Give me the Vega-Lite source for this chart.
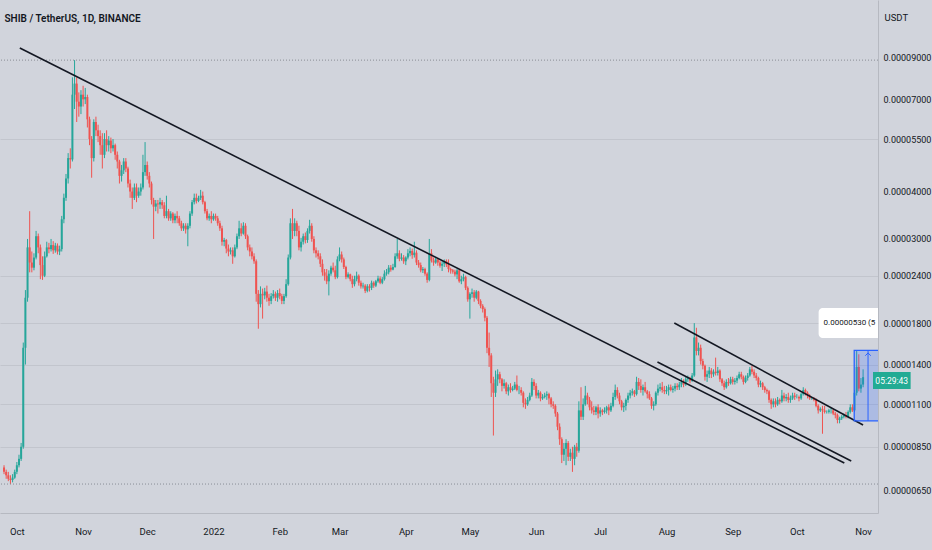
{
  "$schema": "https://vega.github.io/schema/vega-lite/v6.json",
  "width": 878,
  "height": 513,
  "autosize": "none",
  "padding": {"left": 0, "top": 0, "right": 54, "bottom": 37},
  "background": "#d1d4dc",
  "title": {
    "text": "SHIB / TetherUS, 1D, BINANCE",
    "anchor": "start",
    "offset": -24,
    "dx": 5,
    "fontSize": 10,
    "fontWeight": 600,
    "font": "Roboto",
    "color": "#131722"
  },
  "config": {
    "view": {"stroke": null},
    "font": "Roboto"
  },
  "datasets": {
    "candles": [
      {"t":"2021-09-25","o":7.5,"h":7.6,"l":7.2,"c":7.3},
      {"t":"2021-09-26","o":7.3,"h":7.4,"l":7.0,"c":7.15},
      {"t":"2021-09-27","o":7.15,"h":7.3,"l":6.9,"c":7.0},
      {"t":"2021-09-28","o":7.0,"h":7.15,"l":6.78,"c":6.95},
      {"t":"2021-09-29","o":6.95,"h":7.2,"l":6.85,"c":7.05},
      {"t":"2021-09-30","o":7.05,"h":7.4,"l":7.0,"c":7.3},
      {"t":"2021-10-01","o":7.3,"h":7.75,"l":7.2,"c":7.6},
      {"t":"2021-10-02","o":7.6,"h":8.1,"l":7.5,"c":7.9},
      {"t":"2021-10-03","o":7.9,"h":8.7,"l":7.8,"c":8.5},
      {"t":"2021-10-04","o":8.5,"h":16,"l":8.4,"c":15.5},
      {"t":"2021-10-05","o":15.5,"h":22,"l":14,"c":21},
      {"t":"2021-10-06","o":21,"h":30,"l":20.5,"c":28.5},
      {"t":"2021-10-07","o":28.5,"h":35.5,"l":24.5,"c":26},
      {"t":"2021-10-08","o":26,"h":27.8,"l":24.5,"c":25.2},
      {"t":"2021-10-09","o":25.2,"h":27.5,"l":24.8,"c":26.8},
      {"t":"2021-10-10","o":26.8,"h":31.5,"l":26.5,"c":30.5},
      {"t":"2021-10-11","o":30.5,"h":31,"l":27.5,"c":28.5},
      {"t":"2021-10-12","o":28.5,"h":29,"l":23.5,"c":25.6},
      {"t":"2021-10-13","o":25.6,"h":27,"l":23.4,"c":24},
      {"t":"2021-10-14","o":24,"h":27.8,"l":23.8,"c":27},
      {"t":"2021-10-15","o":27,"h":29.5,"l":26.8,"c":28.5},
      {"t":"2021-10-16","o":28.5,"h":29.3,"l":27.5,"c":28.2},
      {"t":"2021-10-17","o":28.2,"h":30,"l":27.8,"c":28.9},
      {"t":"2021-10-18","o":28.9,"h":29.6,"l":27.4,"c":28},
      {"t":"2021-10-19","o":28,"h":29.3,"l":27.6,"c":28.8},
      {"t":"2021-10-20","o":28.8,"h":29.2,"l":27.3,"c":27.8},
      {"t":"2021-10-21","o":27.8,"h":28.8,"l":27.2,"c":28.2},
      {"t":"2021-10-22","o":28.2,"h":34.5,"l":27.8,"c":33.8},
      {"t":"2021-10-23","o":33.8,"h":39.5,"l":33,"c":38.5},
      {"t":"2021-10-24","o":38.5,"h":44.5,"l":37.8,"c":43.3},
      {"t":"2021-10-25","o":43.3,"h":50.5,"l":42,"c":49},
      {"t":"2021-10-26","o":49,"h":52,"l":46,"c":48.6},
      {"t":"2021-10-27","o":48.6,"h":80,"l":48,"c":72},
      {"t":"2021-10-28","o":72,"h":88.8,"l":66,"c":77},
      {"t":"2021-10-29","o":77,"h":80,"l":61,"c":69},
      {"t":"2021-10-30","o":69,"h":73,"l":63,"c":67},
      {"t":"2021-10-31","o":67,"h":74,"l":64,"c":72},
      {"t":"2021-11-01","o":72,"h":76,"l":67,"c":70},
      {"t":"2021-11-02","o":70,"h":75,"l":68,"c":71},
      {"t":"2021-11-03","o":71,"h":72,"l":59,"c":62},
      {"t":"2021-11-04","o":62,"h":63,"l":53,"c":55},
      {"t":"2021-11-05","o":55,"h":56,"l":43.5,"c":49},
      {"t":"2021-11-06","o":49,"h":62,"l":48,"c":61},
      {"t":"2021-11-07","o":61,"h":63,"l":56,"c":58},
      {"t":"2021-11-08","o":58,"h":60,"l":54,"c":56},
      {"t":"2021-11-09","o":56,"h":58,"l":50,"c":53},
      {"t":"2021-11-10","o":53,"h":57,"l":46,"c":50},
      {"t":"2021-11-11","o":50,"h":57,"l":49,"c":55},
      {"t":"2021-11-12","o":55,"h":58,"l":51,"c":53},
      {"t":"2021-11-13","o":53,"h":56,"l":51,"c":54.5},
      {"t":"2021-11-14","o":54.5,"h":55.5,"l":50.5,"c":52},
      {"t":"2021-11-15","o":52,"h":55,"l":51,"c":53},
      {"t":"2021-11-16","o":53,"h":53.5,"l":48.5,"c":50},
      {"t":"2021-11-17","o":50,"h":51,"l":46,"c":48},
      {"t":"2021-11-18","o":48,"h":48.5,"l":42,"c":44},
      {"t":"2021-11-19","o":44,"h":47,"l":42.5,"c":45.5},
      {"t":"2021-11-20","o":45.5,"h":49,"l":44.5,"c":48},
      {"t":"2021-11-21","o":48,"h":49,"l":45,"c":46},
      {"t":"2021-11-22","o":46,"h":46.5,"l":41,"c":42},
      {"t":"2021-11-23","o":42,"h":43,"l":38.5,"c":40},
      {"t":"2021-11-24","o":40,"h":41,"l":36,"c":38.5},
      {"t":"2021-11-25","o":38.5,"h":42,"l":38,"c":41},
      {"t":"2021-11-26","o":41,"h":42,"l":37.5,"c":39},
      {"t":"2021-11-27","o":39,"h":41,"l":38.5,"c":40},
      {"t":"2021-11-28","o":40,"h":42,"l":39,"c":41},
      {"t":"2021-11-29","o":41,"h":50,"l":40.5,"c":45},
      {"t":"2021-11-30","o":45,"h":54,"l":44,"c":47},
      {"t":"2021-12-01","o":47,"h":48,"l":43,"c":44},
      {"t":"2021-12-02","o":44,"h":45,"l":41,"c":42},
      {"t":"2021-12-03","o":42,"h":42.5,"l":37,"c":38},
      {"t":"2021-12-04","o":38,"h":38.5,"l":30,"c":36.5},
      {"t":"2021-12-05","o":36.5,"h":38,"l":35.5,"c":37.2},
      {"t":"2021-12-06","o":37.2,"h":38,"l":35,"c":37},
      {"t":"2021-12-07","o":37,"h":38.5,"l":36,"c":37.5},
      {"t":"2021-12-08","o":37.5,"h":38,"l":36,"c":36.8},
      {"t":"2021-12-09","o":36.8,"h":37.5,"l":34,"c":34.5},
      {"t":"2021-12-10","o":34.5,"h":39,"l":34,"c":35.5},
      {"t":"2021-12-11","o":35.5,"h":36,"l":33.5,"c":34},
      {"t":"2021-12-12","o":34,"h":35.5,"l":33.5,"c":35},
      {"t":"2021-12-13","o":35,"h":35.3,"l":33,"c":33.6},
      {"t":"2021-12-14","o":33.6,"h":35,"l":33,"c":34.5},
      {"t":"2021-12-15","o":34.5,"h":35.5,"l":33,"c":34},
      {"t":"2021-12-16","o":34,"h":34.5,"l":32.5,"c":33},
      {"t":"2021-12-17","o":33,"h":33.5,"l":31.5,"c":32},
      {"t":"2021-12-18","o":32,"h":33,"l":31.5,"c":32.5},
      {"t":"2021-12-19","o":32.5,"h":33,"l":31,"c":31.8},
      {"t":"2021-12-20","o":31.8,"h":33,"l":28.7,"c":32.5},
      {"t":"2021-12-21","o":32.5,"h":35.5,"l":32,"c":35},
      {"t":"2021-12-22","o":35,"h":38,"l":34.5,"c":37.5},
      {"t":"2021-12-23","o":37.5,"h":39.5,"l":37,"c":38.5},
      {"t":"2021-12-24","o":38.5,"h":39.5,"l":37.2,"c":37.8},
      {"t":"2021-12-25","o":37.8,"h":39,"l":37.5,"c":38.5},
      {"t":"2021-12-26","o":38.5,"h":40.4,"l":38,"c":39},
      {"t":"2021-12-27","o":39,"h":40,"l":37,"c":37.5},
      {"t":"2021-12-28","o":37.5,"h":37.8,"l":35,"c":35.5},
      {"t":"2021-12-29","o":35.5,"h":36,"l":33.6,"c":34},
      {"t":"2021-12-30","o":34,"h":35,"l":33.5,"c":34.5},
      {"t":"2021-12-31","o":34.5,"h":35.5,"l":33,"c":33.8},
      {"t":"2022-01-01","o":33.8,"h":35,"l":33.5,"c":34.5},
      {"t":"2022-01-02","o":34.5,"h":35,"l":33.5,"c":34},
      {"t":"2022-01-03","o":34,"h":34.5,"l":32.5,"c":33},
      {"t":"2022-01-04","o":33,"h":33.5,"l":31.5,"c":32},
      {"t":"2022-01-05","o":32,"h":32.5,"l":28.8,"c":29.5},
      {"t":"2022-01-06","o":29.5,"h":30.2,"l":28.7,"c":29.8},
      {"t":"2022-01-07","o":29.8,"h":30,"l":27.5,"c":28.3},
      {"t":"2022-01-08","o":28.3,"h":29,"l":27,"c":27.8},
      {"t":"2022-01-09","o":27.8,"h":28.5,"l":27.3,"c":28},
      {"t":"2022-01-10","o":28,"h":28.5,"l":25.8,"c":27},
      {"t":"2022-01-11","o":27,"h":29,"l":26.8,"c":28.5},
      {"t":"2022-01-12","o":28.5,"h":31,"l":28.2,"c":30.5},
      {"t":"2022-01-13","o":30.5,"h":33.5,"l":30,"c":32},
      {"t":"2022-01-14","o":32,"h":33,"l":30.5,"c":31},
      {"t":"2022-01-15","o":31,"h":33.2,"l":30.8,"c":32.5},
      {"t":"2022-01-16","o":32.5,"h":33,"l":30,"c":30.5},
      {"t":"2022-01-17","o":30.5,"h":30.8,"l":28,"c":28.5},
      {"t":"2022-01-18","o":28.5,"h":29,"l":27,"c":27.8},
      {"t":"2022-01-19","o":27.8,"h":28.5,"l":26.5,"c":27},
      {"t":"2022-01-20","o":27,"h":27.5,"l":25.8,"c":26.2},
      {"t":"2022-01-21","o":26.2,"h":26.5,"l":20.5,"c":21.5},
      {"t":"2022-01-22","o":21.5,"h":22,"l":17.4,"c":20.2},
      {"t":"2022-01-23","o":20.2,"h":22.5,"l":19.8,"c":21.5},
      {"t":"2022-01-24","o":21.5,"h":22.2,"l":18.5,"c":21.3},
      {"t":"2022-01-25","o":21.3,"h":22.3,"l":20.8,"c":21.8},
      {"t":"2022-01-26","o":21.8,"h":22.6,"l":20.5,"c":21},
      {"t":"2022-01-27","o":21,"h":21.5,"l":20,"c":20.6},
      {"t":"2022-01-28","o":20.6,"h":21.6,"l":20.2,"c":21.2},
      {"t":"2022-01-29","o":21.2,"h":22,"l":20.9,"c":21.5},
      {"t":"2022-01-30","o":21.5,"h":21.8,"l":20.6,"c":21},
      {"t":"2022-01-31","o":21,"h":22,"l":20.5,"c":21.6},
      {"t":"2022-02-01","o":21.6,"h":22.2,"l":20.8,"c":21.2},
      {"t":"2022-02-02","o":21.2,"h":21.5,"l":20.2,"c":20.6},
      {"t":"2022-02-03","o":20.6,"h":21.5,"l":20.2,"c":21.2},
      {"t":"2022-02-04","o":21.2,"h":23.5,"l":21,"c":22.8},
      {"t":"2022-02-05","o":22.8,"h":27.3,"l":22.6,"c":26.8},
      {"t":"2022-02-06","o":26.8,"h":34,"l":26.5,"c":33},
      {"t":"2022-02-07","o":33,"h":36,"l":30,"c":31.5},
      {"t":"2022-02-08","o":31.5,"h":34,"l":30.5,"c":33},
      {"t":"2022-02-09","o":33,"h":33.5,"l":30.5,"c":31.5},
      {"t":"2022-02-10","o":31.5,"h":32.5,"l":28,"c":28.5},
      {"t":"2022-02-11","o":28.5,"h":30.2,"l":27.8,"c":29.5},
      {"t":"2022-02-12","o":29.5,"h":31,"l":29,"c":30.5},
      {"t":"2022-02-13","o":30.5,"h":31.2,"l":29.2,"c":29.8},
      {"t":"2022-02-14","o":29.8,"h":32,"l":29.3,"c":31.5},
      {"t":"2022-02-15","o":31.5,"h":33.7,"l":31,"c":32.5},
      {"t":"2022-02-16","o":32.5,"h":33,"l":29.5,"c":30},
      {"t":"2022-02-17","o":30,"h":30.5,"l":27.5,"c":28},
      {"t":"2022-02-18","o":28,"h":28.5,"l":26.8,"c":27.5},
      {"t":"2022-02-19","o":27.5,"h":28,"l":26.5,"c":27},
      {"t":"2022-02-20","o":27,"h":27.5,"l":25.3,"c":25.8},
      {"t":"2022-02-21","o":25.8,"h":26.5,"l":24,"c":24.5},
      {"t":"2022-02-22","o":24.5,"h":25,"l":23.3,"c":24},
      {"t":"2022-02-23","o":24,"h":25,"l":22.8,"c":23.2},
      {"t":"2022-02-24","o":23.2,"h":24.8,"l":21.3,"c":24.3},
      {"t":"2022-02-25","o":24.3,"h":25.5,"l":24,"c":25.2},
      {"t":"2022-02-26","o":25.2,"h":26,"l":24.5,"c":24.8},
      {"t":"2022-02-27","o":24.8,"h":25.5,"l":23.5,"c":23.8},
      {"t":"2022-02-28","o":23.8,"h":27,"l":23.6,"c":26.5},
      {"t":"2022-03-01","o":26.5,"h":28.5,"l":26.2,"c":27.3},
      {"t":"2022-03-02","o":27.3,"h":27.8,"l":26,"c":26.5},
      {"t":"2022-03-03","o":26.5,"h":26.8,"l":25,"c":25.3},
      {"t":"2022-03-04","o":25.3,"h":25.5,"l":23.5,"c":23.8},
      {"t":"2022-03-05","o":23.8,"h":24.5,"l":23.6,"c":24.2},
      {"t":"2022-03-06","o":24.2,"h":24.3,"l":23.2,"c":23.5},
      {"t":"2022-03-07","o":23.5,"h":24,"l":22.3,"c":22.8},
      {"t":"2022-03-08","o":22.8,"h":24,"l":22.5,"c":23.5},
      {"t":"2022-03-09","o":23.5,"h":24.6,"l":23.2,"c":24},
      {"t":"2022-03-10","o":24,"h":24.2,"l":22.6,"c":23},
      {"t":"2022-03-11","o":23,"h":23.3,"l":22.2,"c":22.5},
      {"t":"2022-03-12","o":22.5,"h":23,"l":22.2,"c":22.6},
      {"t":"2022-03-13","o":22.6,"h":22.8,"l":21.6,"c":21.9},
      {"t":"2022-03-14","o":21.9,"h":22.8,"l":21.7,"c":22.5},
      {"t":"2022-03-15","o":22.5,"h":22.8,"l":21.8,"c":22.3},
      {"t":"2022-03-16","o":22.3,"h":23.3,"l":22,"c":23},
      {"t":"2022-03-17","o":23,"h":23.2,"l":22.3,"c":22.6},
      {"t":"2022-03-18","o":22.6,"h":23.4,"l":22.4,"c":23.2},
      {"t":"2022-03-19","o":23.2,"h":24,"l":23,"c":23.6},
      {"t":"2022-03-20","o":23.6,"h":23.9,"l":22.8,"c":23},
      {"t":"2022-03-21","o":23,"h":23.8,"l":22.8,"c":23.5},
      {"t":"2022-03-22","o":23.5,"h":24.8,"l":23.3,"c":24.3},
      {"t":"2022-03-23","o":24.3,"h":25,"l":24,"c":24.5},
      {"t":"2022-03-24","o":24.5,"h":25.6,"l":24.2,"c":25.2},
      {"t":"2022-03-25","o":25.2,"h":25.6,"l":24.6,"c":24.9},
      {"t":"2022-03-26","o":24.9,"h":25.8,"l":24.8,"c":25.3},
      {"t":"2022-03-27","o":25.3,"h":27.5,"l":25.2,"c":27},
      {"t":"2022-03-28","o":27,"h":30,"l":26.6,"c":27.5},
      {"t":"2022-03-29","o":27.5,"h":28,"l":26.2,"c":26.6},
      {"t":"2022-03-30","o":26.6,"h":27.5,"l":26.3,"c":26.8},
      {"t":"2022-03-31","o":26.8,"h":27.2,"l":25.8,"c":26.2},
      {"t":"2022-04-01","o":26.2,"h":27,"l":25.6,"c":26.8},
      {"t":"2022-04-02","o":26.8,"h":28.2,"l":26.5,"c":27.5},
      {"t":"2022-04-03","o":27.5,"h":28.5,"l":27,"c":27.9},
      {"t":"2022-04-04","o":27.9,"h":28.3,"l":26.6,"c":27.2},
      {"t":"2022-04-05","o":27.2,"h":29.5,"l":26.8,"c":27.6},
      {"t":"2022-04-06","o":27.6,"h":28,"l":25.6,"c":26},
      {"t":"2022-04-07","o":26,"h":26.4,"l":25.2,"c":25.6},
      {"t":"2022-04-08","o":25.6,"h":26,"l":24.5,"c":24.8},
      {"t":"2022-04-09","o":24.8,"h":25.3,"l":24.4,"c":25},
      {"t":"2022-04-10","o":25,"h":25.2,"l":24,"c":24.3},
      {"t":"2022-04-11","o":24.3,"h":24.5,"l":23,"c":23.4},
      {"t":"2022-04-12","o":23.4,"h":30,"l":23.2,"c":27.5},
      {"t":"2022-04-13","o":27.5,"h":28.2,"l":26,"c":26.3},
      {"t":"2022-04-14","o":26.3,"h":26.8,"l":25.5,"c":26},
      {"t":"2022-04-15","o":26,"h":26.9,"l":25.8,"c":26.5},
      {"t":"2022-04-16","o":26.5,"h":26.7,"l":25.5,"c":26},
      {"t":"2022-04-17","o":26,"h":26.3,"l":25.2,"c":25.5},
      {"t":"2022-04-18","o":25.5,"h":26.2,"l":24.7,"c":25.8},
      {"t":"2022-04-19","o":25.8,"h":26.5,"l":25.3,"c":26.2},
      {"t":"2022-04-20","o":26.2,"h":26.5,"l":25.3,"c":25.7},
      {"t":"2022-04-21","o":25.7,"h":26.5,"l":24.5,"c":25},
      {"t":"2022-04-22","o":25,"h":25.2,"l":24.3,"c":24.8},
      {"t":"2022-04-23","o":24.8,"h":25,"l":24.3,"c":24.6},
      {"t":"2022-04-24","o":24.6,"h":24.9,"l":23.9,"c":24.2},
      {"t":"2022-04-25","o":24.2,"h":25,"l":23.5,"c":24.8},
      {"t":"2022-04-26","o":24.8,"h":25,"l":23,"c":23.2},
      {"t":"2022-04-27","o":23.2,"h":24,"l":22.8,"c":23.5},
      {"t":"2022-04-28","o":23.5,"h":24.3,"l":23.2,"c":23.8},
      {"t":"2022-04-29","o":23.8,"h":24,"l":22,"c":22.3},
      {"t":"2022-04-30","o":22.3,"h":22.5,"l":20.5,"c":20.8},
      {"t":"2022-05-01","o":20.8,"h":21.7,"l":18.5,"c":21.5},
      {"t":"2022-05-02","o":21.5,"h":22.2,"l":21,"c":21.7},
      {"t":"2022-05-03","o":21.7,"h":22,"l":20.5,"c":21},
      {"t":"2022-05-04","o":21,"h":22,"l":20.8,"c":21.8},
      {"t":"2022-05-05","o":21.8,"h":21.9,"l":20.2,"c":20.6},
      {"t":"2022-05-06","o":20.6,"h":20.8,"l":19.7,"c":20},
      {"t":"2022-05-07","o":20,"h":20.2,"l":19.2,"c":19.6},
      {"t":"2022-05-08","o":19.6,"h":19.8,"l":18.2,"c":18.6},
      {"t":"2022-05-09","o":18.6,"h":18.8,"l":15,"c":15.5},
      {"t":"2022-05-10","o":15.5,"h":17,"l":13.8,"c":14.8},
      {"t":"2022-05-11","o":14.8,"h":15,"l":11.5,"c":12.5},
      {"t":"2022-05-12","o":12.5,"h":13,"l":9.1,"c":11.8},
      {"t":"2022-05-13","o":11.8,"h":13.5,"l":11.5,"c":12.8},
      {"t":"2022-05-14","o":12.8,"h":13.6,"l":12.3,"c":13.2},
      {"t":"2022-05-15","o":13.2,"h":13.4,"l":12.5,"c":12.8},
      {"t":"2022-05-16","o":12.8,"h":12.9,"l":11.9,"c":12.3},
      {"t":"2022-05-17","o":12.3,"h":12.8,"l":12.1,"c":12.5},
      {"t":"2022-05-18","o":12.5,"h":12.6,"l":11.7,"c":11.9},
      {"t":"2022-05-19","o":11.9,"h":12.4,"l":11.6,"c":12.2},
      {"t":"2022-05-20","o":12.2,"h":12.5,"l":11.8,"c":12},
      {"t":"2022-05-21","o":12,"h":12.3,"l":11.9,"c":12.1},
      {"t":"2022-05-22","o":12.1,"h":12.6,"l":12,"c":12.4},
      {"t":"2022-05-23","o":12.4,"h":13.1,"l":11.9,"c":12},
      {"t":"2022-05-24","o":12,"h":12.3,"l":11.7,"c":12},
      {"t":"2022-05-25","o":12,"h":12.2,"l":11.6,"c":11.8},
      {"t":"2022-05-26","o":11.8,"h":11.9,"l":10.8,"c":11.1},
      {"t":"2022-05-27","o":11.1,"h":11.4,"l":10.7,"c":11},
      {"t":"2022-05-28","o":11,"h":11.5,"l":10.9,"c":11.3},
      {"t":"2022-05-29","o":11.3,"h":11.8,"l":11.2,"c":11.6},
      {"t":"2022-05-30","o":11.6,"h":12.9,"l":11.5,"c":12.6},
      {"t":"2022-05-31","o":12.6,"h":12.8,"l":12,"c":12.3},
      {"t":"2022-06-01","o":12.3,"h":12.5,"l":11.4,"c":11.6},
      {"t":"2022-06-02","o":11.6,"h":12,"l":11.4,"c":11.8},
      {"t":"2022-06-03","o":11.8,"h":11.9,"l":11.2,"c":11.4},
      {"t":"2022-06-04","o":11.4,"h":11.7,"l":11.3,"c":11.5},
      {"t":"2022-06-05","o":11.5,"h":11.8,"l":11.4,"c":11.6},
      {"t":"2022-06-06","o":11.6,"h":11.9,"l":11.3,"c":11.7},
      {"t":"2022-06-07","o":11.7,"h":11.8,"l":11,"c":11.4},
      {"t":"2022-06-08","o":11.4,"h":11.5,"l":10.8,"c":11},
      {"t":"2022-06-09","o":11,"h":11.2,"l":10.7,"c":10.9},
      {"t":"2022-06-10","o":10.9,"h":11,"l":10.2,"c":10.4},
      {"t":"2022-06-11","o":10.4,"h":10.5,"l":9.4,"c":9.6},
      {"t":"2022-06-12","o":9.6,"h":9.8,"l":8.6,"c":8.9},
      {"t":"2022-06-13","o":8.9,"h":9,"l":7.7,"c":8.1},
      {"t":"2022-06-14","o":8.1,"h":8.7,"l":7.8,"c":8.4},
      {"t":"2022-06-15","o":8.4,"h":8.9,"l":7.6,"c":8.7},
      {"t":"2022-06-16","o":8.7,"h":8.8,"l":7.8,"c":8},
      {"t":"2022-06-17","o":8,"h":8.4,"l":7.8,"c":8.2},
      {"t":"2022-06-18","o":8.2,"h":8.5,"l":7.3,"c":7.9},
      {"t":"2022-06-19","o":7.9,"h":8.6,"l":7.6,"c":8.5},
      {"t":"2022-06-20","o":8.5,"h":8.7,"l":8,"c":8.3},
      {"t":"2022-06-21","o":8.3,"h":11.2,"l":8.2,"c":10.6},
      {"t":"2022-06-22","o":10.6,"h":12.2,"l":10,"c":10.2},
      {"t":"2022-06-23","o":10.2,"h":11.4,"l":10,"c":11},
      {"t":"2022-06-24","o":11,"h":12.3,"l":10.9,"c":11.6},
      {"t":"2022-06-25","o":11.6,"h":11.8,"l":11,"c":11.3},
      {"t":"2022-06-26","o":11.3,"h":11.5,"l":10.6,"c":10.8},
      {"t":"2022-06-27","o":10.8,"h":11.2,"l":10.4,"c":10.6},
      {"t":"2022-06-28","o":10.6,"h":10.9,"l":10.3,"c":10.5},
      {"t":"2022-06-29","o":10.5,"h":10.9,"l":10.3,"c":10.8},
      {"t":"2022-06-30","o":10.8,"h":11,"l":10.1,"c":10.4},
      {"t":"2022-07-01","o":10.4,"h":10.8,"l":10.2,"c":10.6},
      {"t":"2022-07-02","o":10.6,"h":10.7,"l":10.3,"c":10.5},
      {"t":"2022-07-03","o":10.5,"h":10.8,"l":10.4,"c":10.6},
      {"t":"2022-07-04","o":10.6,"h":10.9,"l":10.4,"c":10.8},
      {"t":"2022-07-05","o":10.8,"h":11,"l":10.3,"c":10.6},
      {"t":"2022-07-06","o":10.6,"h":11.1,"l":10.5,"c":10.9},
      {"t":"2022-07-07","o":10.9,"h":11.8,"l":10.8,"c":11.5},
      {"t":"2022-07-08","o":11.5,"h":12.4,"l":11.3,"c":12},
      {"t":"2022-07-09","o":12,"h":12.2,"l":11.4,"c":11.6},
      {"t":"2022-07-10","o":11.6,"h":11.8,"l":11,"c":11.2},
      {"t":"2022-07-11","o":11.2,"h":11.3,"l":10.6,"c":10.8},
      {"t":"2022-07-12","o":10.8,"h":11.1,"l":10.5,"c":10.9},
      {"t":"2022-07-13","o":10.9,"h":11.4,"l":10.6,"c":11.3},
      {"t":"2022-07-14","o":11.3,"h":11.8,"l":11.1,"c":11.6},
      {"t":"2022-07-15","o":11.6,"h":12,"l":11.4,"c":11.8},
      {"t":"2022-07-16","o":11.8,"h":12.1,"l":11.6,"c":11.9},
      {"t":"2022-07-17","o":11.9,"h":12,"l":11.5,"c":11.7},
      {"t":"2022-07-18","o":11.7,"h":13,"l":11.6,"c":12.6},
      {"t":"2022-07-19","o":12.6,"h":12.9,"l":12,"c":12.3},
      {"t":"2022-07-20","o":12.3,"h":12.8,"l":11.8,"c":12},
      {"t":"2022-07-21","o":12,"h":12.4,"l":11.6,"c":12.2},
      {"t":"2022-07-22","o":12.2,"h":12.6,"l":11.8,"c":11.9},
      {"t":"2022-07-23","o":11.9,"h":12,"l":11.4,"c":11.7},
      {"t":"2022-07-24","o":11.7,"h":11.9,"l":11.3,"c":11.4},
      {"t":"2022-07-25","o":11.4,"h":11.5,"l":10.7,"c":10.9},
      {"t":"2022-07-26","o":10.9,"h":11.2,"l":10.6,"c":11},
      {"t":"2022-07-27","o":11,"h":11.9,"l":10.9,"c":11.8},
      {"t":"2022-07-28","o":11.8,"h":12.4,"l":11.6,"c":12.1},
      {"t":"2022-07-29","o":12.1,"h":12.5,"l":11.9,"c":12.2},
      {"t":"2022-07-30","o":12.2,"h":12.6,"l":11.8,"c":12},
      {"t":"2022-07-31","o":12,"h":12.3,"l":11.7,"c":11.9},
      {"t":"2022-08-01","o":11.9,"h":12.3,"l":11.7,"c":12},
      {"t":"2022-08-02","o":12,"h":12.4,"l":11.6,"c":12.2},
      {"t":"2022-08-03","o":12.2,"h":12.4,"l":11.9,"c":12},
      {"t":"2022-08-04","o":12,"h":12.3,"l":11.8,"c":12.1},
      {"t":"2022-08-05","o":12.1,"h":12.5,"l":11.9,"c":12.3},
      {"t":"2022-08-06","o":12.3,"h":12.5,"l":12,"c":12.2},
      {"t":"2022-08-07","o":12.2,"h":12.6,"l":12,"c":12.4},
      {"t":"2022-08-08","o":12.4,"h":12.9,"l":12.2,"c":12.6},
      {"t":"2022-08-09","o":12.6,"h":12.8,"l":12.2,"c":12.4},
      {"t":"2022-08-10","o":12.4,"h":13,"l":12.3,"c":12.8},
      {"t":"2022-08-11","o":12.8,"h":13.1,"l":12.6,"c":12.9},
      {"t":"2022-08-12","o":12.9,"h":13,"l":12.5,"c":12.7},
      {"t":"2022-08-13","o":12.7,"h":13.3,"l":12.6,"c":13.1},
      {"t":"2022-08-14","o":13.1,"h":18,"l":13,"c":16.5},
      {"t":"2022-08-15","o":16.5,"h":17.5,"l":14.8,"c":15.2},
      {"t":"2022-08-16","o":15.2,"h":16,"l":14.8,"c":15.5},
      {"t":"2022-08-17","o":15.5,"h":15.8,"l":14,"c":14.3},
      {"t":"2022-08-18","o":14.3,"h":14.5,"l":13.6,"c":13.9},
      {"t":"2022-08-19","o":13.9,"h":14,"l":12.7,"c":13},
      {"t":"2022-08-20","o":13,"h":13.5,"l":12.6,"c":13.2},
      {"t":"2022-08-21","o":13.2,"h":13.8,"l":12.9,"c":13.5},
      {"t":"2022-08-22","o":13.5,"h":13.7,"l":12.9,"c":13.2},
      {"t":"2022-08-23","o":13.2,"h":13.6,"l":13,"c":13.4},
      {"t":"2022-08-24","o":13.4,"h":14.6,"l":13.1,"c":13.3},
      {"t":"2022-08-25","o":13.3,"h":13.8,"l":13.1,"c":13.5},
      {"t":"2022-08-26","o":13.5,"h":13.6,"l":12.6,"c":12.8},
      {"t":"2022-08-27","o":12.8,"h":12.9,"l":12.3,"c":12.5},
      {"t":"2022-08-28","o":12.5,"h":12.7,"l":12,"c":12.2},
      {"t":"2022-08-29","o":12.2,"h":12.8,"l":12.1,"c":12.6},
      {"t":"2022-08-30","o":12.6,"h":12.9,"l":12.3,"c":12.5},
      {"t":"2022-08-31","o":12.5,"h":13,"l":12.4,"c":12.8},
      {"t":"2022-09-01","o":12.8,"h":13,"l":12.4,"c":12.6},
      {"t":"2022-09-02","o":12.6,"h":12.9,"l":12.4,"c":12.7},
      {"t":"2022-09-03","o":12.7,"h":13.1,"l":12.5,"c":12.9},
      {"t":"2022-09-04","o":12.9,"h":13.4,"l":12.8,"c":13.2},
      {"t":"2022-09-05","o":13.2,"h":13.4,"l":12.8,"c":13},
      {"t":"2022-09-06","o":13,"h":13.1,"l":12.4,"c":12.6},
      {"t":"2022-09-07","o":12.6,"h":13.1,"l":12.5,"c":12.9},
      {"t":"2022-09-08","o":12.9,"h":13.3,"l":12.7,"c":13.1},
      {"t":"2022-09-09","o":13.1,"h":13.8,"l":13,"c":13.6},
      {"t":"2022-09-10","o":13.6,"h":13.9,"l":13.2,"c":13.4},
      {"t":"2022-09-11","o":13.4,"h":13.6,"l":12.9,"c":13.1},
      {"t":"2022-09-12","o":13.1,"h":13.3,"l":12.7,"c":12.9},
      {"t":"2022-09-13","o":12.9,"h":13,"l":12.2,"c":12.4},
      {"t":"2022-09-14","o":12.4,"h":12.7,"l":12.2,"c":12.5},
      {"t":"2022-09-15","o":12.5,"h":12.6,"l":12,"c":12.2},
      {"t":"2022-09-16","o":12.2,"h":12.3,"l":11.8,"c":12},
      {"t":"2022-09-17","o":12,"h":12.1,"l":11.7,"c":11.9},
      {"t":"2022-09-18","o":11.9,"h":12,"l":11.1,"c":11.3},
      {"t":"2022-09-19","o":11.3,"h":11.4,"l":10.7,"c":11},
      {"t":"2022-09-20","o":11,"h":11.4,"l":10.8,"c":11.2},
      {"t":"2022-09-21","o":11.2,"h":11.4,"l":10.8,"c":11},
      {"t":"2022-09-22","o":11,"h":11.5,"l":10.9,"c":11.3},
      {"t":"2022-09-23","o":11.3,"h":11.4,"l":11,"c":11.2},
      {"t":"2022-09-24","o":11.2,"h":12,"l":11.1,"c":11.6},
      {"t":"2022-09-25","o":11.6,"h":11.8,"l":11.2,"c":11.4},
      {"t":"2022-09-26","o":11.4,"h":11.7,"l":11.2,"c":11.5},
      {"t":"2022-09-27","o":11.5,"h":11.8,"l":11.1,"c":11.3},
      {"t":"2022-09-28","o":11.3,"h":11.6,"l":11.1,"c":11.4},
      {"t":"2022-09-29","o":11.4,"h":11.8,"l":11.3,"c":11.6},
      {"t":"2022-09-30","o":11.6,"h":11.8,"l":11.3,"c":11.5},
      {"t":"2022-10-01","o":11.5,"h":11.7,"l":11.4,"c":11.5},
      {"t":"2022-10-02","o":11.5,"h":11.6,"l":11.2,"c":11.4},
      {"t":"2022-10-03","o":11.4,"h":11.8,"l":11.3,"c":11.7},
      {"t":"2022-10-04","o":11.7,"h":12.2,"l":11.6,"c":12},
      {"t":"2022-10-05","o":12,"h":12.1,"l":11.6,"c":11.8},
      {"t":"2022-10-06","o":11.8,"h":11.9,"l":11.4,"c":11.6},
      {"t":"2022-10-07","o":11.6,"h":11.7,"l":11.3,"c":11.4},
      {"t":"2022-10-08","o":11.4,"h":11.5,"l":11.3,"c":11.4},
      {"t":"2022-10-09","o":11.4,"h":11.5,"l":11.2,"c":11.3},
      {"t":"2022-10-10","o":11.3,"h":11.4,"l":10.8,"c":10.9},
      {"t":"2022-10-11","o":10.9,"h":11,"l":10.4,"c":10.6},
      {"t":"2022-10-12","o":10.6,"h":10.8,"l":10.5,"c":10.7},
      {"t":"2022-10-13","o":10.7,"h":10.9,"l":9.2,"c":10.6},
      {"t":"2022-10-14","o":10.6,"h":10.9,"l":10.4,"c":10.5},
      {"t":"2022-10-15","o":10.5,"h":10.6,"l":10.4,"c":10.5},
      {"t":"2022-10-16","o":10.5,"h":10.7,"l":10.4,"c":10.6},
      {"t":"2022-10-17","o":10.6,"h":10.8,"l":10.4,"c":10.6},
      {"t":"2022-10-18","o":10.6,"h":10.7,"l":10.3,"c":10.4},
      {"t":"2022-10-19","o":10.4,"h":10.5,"l":10.1,"c":10.3},
      {"t":"2022-10-20","o":10.3,"h":10.4,"l":9.8,"c":10},
      {"t":"2022-10-21","o":10,"h":10.2,"l":9.8,"c":10.1},
      {"t":"2022-10-22","o":10.1,"h":10.3,"l":10,"c":10.2},
      {"t":"2022-10-23","o":10.2,"h":10.4,"l":10.1,"c":10.3},
      {"t":"2022-10-24","o":10.3,"h":10.5,"l":10.1,"c":10.2},
      {"t":"2022-10-25","o":10.2,"h":10.6,"l":10.1,"c":10.5},
      {"t":"2022-10-26","o":10.5,"h":11,"l":10.4,"c":10.8},
      {"t":"2022-10-27","o":10.8,"h":11,"l":10.5,"c":10.6},
      {"t":"2022-10-28","o":10.6,"h":12,"l":10.5,"c":11.8},
      {"t":"2022-10-29","o":11.8,"h":15.25,"l":11.6,"c":13.8},
      {"t":"2022-10-30","o":13.8,"h":14.9,"l":11.9,"c":12.1},
      {"t":"2022-10-31","o":12.1,"h":12.9,"l":11.8,"c":12.4},
      {"t":"2022-11-01","o":12.4,"h":13.6,"l":12.2,"c":12.97}
    ],
    "lines": [
      {"name":"trend","t":"2021-10-02T09:22:00Z","p":95.57},
      {"name":"trend","t":"2022-10-23T05:17:00Z","p":7.705},
      {"name":"lower","t":"2022-07-27T18:43:00Z","p":14.22},
      {"name":"lower","t":"2022-10-26T10:48:00Z","p":7.797},
      {"name":"upper","t":"2022-08-04T15:36:00Z","p":18.02},
      {"name":"upper","t":"2022-11-01T00:00:00Z","p":9.7}
    ],
    "measure": [
      {"t":"2022-10-27T20:24:00Z","t2":"2022-11-12T00:00:00Z","a":9.95,"b":15.25,"ta":"2022-11-03T07:40:00Z"}
    ],
    "tag": [
      {"t":"2022-10-11T04:34:00Z","t2":"2022-11-20T00:00:00Z","tx":"2022-10-13T12:00:00Z","top":19.74,"bottom":16.45,"mid":18.02,"text":"0.00000530 (5"}
    ],
    "clock": [
      {"t":"2022-11-05T15:20:00Z","t2":"2022-11-23T06:00:00Z","tx":"2022-11-14T10:00:00Z","top":13.38,"bottom":12.07,"mid":12.7,"text":"05:29:43"}
    ]
  },
  "layer": [
    {
      "data": {"name": "candles"},
      "mark": {"type": "rule", "strokeWidth": 1},
      "encoding": {
        "x": {
          "field": "t",
          "type": "temporal",
          "title": null,
          "scale": {
            "type": "utc",
            "domain": [
              {"year": 2021, "month": 9, "date": 25, "hours": 10, "minutes": 48, "utc": true},
              {"year": 2022, "month": 11, "date": 5, "hours": 15, "minutes": 20, "utc": true}
            ]
          },
          "axis": {
            "orient": "bottom",
            "values": [
              {"year": 2021, "month": 10, "date": 1, "utc": true},
              {"year": 2021, "month": 11, "date": 1, "utc": true},
              {"year": 2021, "month": 12, "date": 1, "utc": true},
              {"year": 2022, "month": 1, "date": 1, "utc": true},
              {"year": 2022, "month": 2, "date": 1, "utc": true},
              {"year": 2022, "month": 3, "date": 1, "utc": true},
              {"year": 2022, "month": 4, "date": 1, "utc": true},
              {"year": 2022, "month": 5, "date": 1, "utc": true},
              {"year": 2022, "month": 6, "date": 1, "utc": true},
              {"year": 2022, "month": 7, "date": 1, "utc": true},
              {"year": 2022, "month": 8, "date": 1, "utc": true},
              {"year": 2022, "month": 9, "date": 1, "utc": true},
              {"year": 2022, "month": 10, "date": 1, "utc": true},
              {"year": 2022, "month": 11, "date": 1, "utc": true}
            ],
            "labelExpr": "utcmonth(datum.value) == 0 ? utcFormat(datum.value, '%Y') : utcFormat(datum.value, '%b')",
            "labelFontSize": 9.5,
            "labelColor": "#131722",
            "labelPadding": 13,
            "labelOverlap": false,
            "ticks": false,
            "grid": false,
            "domainColor": "#b6b9c1",
            "domainWidth": 1
          }
        },
        "y": {
          "field": "l",
          "type": "quantitative",
          "title": "USDT",
          "scale": {"type": "log", "domain": [5.6876, 127.89], "nice": false, "zero": false},
          "axis": {
            "orient": "right",
            "values": [90, 70, 55, 40, 30, 24, 18, 14, 11, 8.5, 6.5],
            "labelExpr": "format(datum.value / 1000000, '.8f')",
            "labelFontSize": 9,
            "labelColor": "#131722",
            "labelPadding": 5,
            "labelBaseline": "middle",
            "labelOverlap": false,
            "labelBound": false,
            "ticks": false,
            "domainColor": "#b6b9c1",
            "domainWidth": 1,
            "grid": true,
            "gridColor": "#c2c5cd",
            "gridWidth": 1,
            "gridOpacity": {
              "condition": {"test": "indexof([55, 24, 18, 14, 11, 8.5], datum.value) >= 0", "value": 1},
              "value": 0
            },
            "titleAngle": 0,
            "titleX": 6,
            "titleY": 17,
            "titleAlign": "left",
            "titleBaseline": "middle",
            "titleFontSize": 9.5,
            "titleFontWeight": "normal",
            "titleColor": "#131722"
          }
        },
        "y2": {"field": "h"},
        "color": {
          "condition": {"test": "datum.c >= datum.o", "value": "#26a69a"},
          "value": "#ef5350"
        }
      }
    },
    {
      "data": {"name": "candles"},
      "mark": {"type": "bar", "size": 2},
      "encoding": {
        "x": {"field": "t", "type": "temporal"},
        "y": {"field": "o", "type": "quantitative"},
        "y2": {"field": "c"},
        "color": {
          "condition": {"test": "datum.c >= datum.o", "value": "#26a69a"},
          "value": "#ef5350"
        }
      }
    },
    {
      "data": {"name": "candles"},
      "mark": {"type": "rule", "color": "#8a8d96", "strokeWidth": 1, "strokeDash": [1, 2]},
      "encoding": {
        "y": {"aggregate": "max", "field": "h", "type": "quantitative"}
      }
    },
    {
      "data": {"name": "candles"},
      "mark": {"type": "rule", "color": "#8a8d96", "strokeWidth": 1, "strokeDash": [1, 2]},
      "encoding": {
        "y": {"aggregate": "min", "field": "l", "type": "quantitative"}
      }
    },
    {
      "data": {"name": "lines"},
      "mark": {"type": "line", "color": "#131722", "strokeWidth": 1.6},
      "encoding": {
        "x": {"field": "t", "type": "temporal"},
        "y": {"field": "p", "type": "quantitative"},
        "detail": {"field": "name"}
      }
    },
    {
      "data": {"name": "measure"},
      "mark": {"type": "rect", "clip": true, "fill": "#2962ff", "fillOpacity": 0.22, "stroke": "#2962ff", "strokeWidth": 1.3},
      "encoding": {
        "x": {"field": "t", "type": "temporal"},
        "x2": {"field": "t2"},
        "y": {"field": "a", "type": "quantitative"},
        "y2": {"field": "b"}
      }
    },
    {
      "data": {"name": "measure"},
      "mark": {"type": "rule", "color": "#2962ff", "strokeWidth": 1},
      "encoding": {
        "x": {"field": "ta", "type": "temporal"},
        "y": {"field": "a", "type": "quantitative"},
        "y2": {"field": "b"}
      }
    },
    {
      "data": {"name": "measure"},
      "mark": {"type": "point", "shape": "M-1,1L0,0L1,1", "filled": false, "stroke": "#2962ff", "strokeWidth": 1, "size": 30, "yOffset": 2.5, "opacity": 1},
      "encoding": {
        "x": {"field": "ta", "type": "temporal"},
        "y": {"field": "b", "type": "quantitative"}
      }
    },
    {
      "data": {"name": "tag"},
      "mark": {"type": "rect", "clip": true, "fill": "#ffffff", "cornerRadius": 4},
      "encoding": {
        "x": {"field": "t", "type": "temporal"},
        "x2": {"field": "t2"},
        "y": {"field": "top", "type": "quantitative"},
        "y2": {"field": "bottom"}
      }
    },
    {
      "data": {"name": "tag"},
      "mark": {"type": "text", "clip": true, "align": "left", "baseline": "middle", "fontSize": 8, "color": "#131722"},
      "encoding": {
        "x": {"field": "tx", "type": "temporal"},
        "y": {"field": "mid", "type": "quantitative"},
        "text": {"field": "text"}
      }
    },
    {
      "data": {"name": "clock"},
      "mark": {"type": "rect", "fill": "#22ab94"},
      "encoding": {
        "x": {"field": "t", "type": "temporal"},
        "x2": {"field": "t2"},
        "y": {"field": "top", "type": "quantitative"},
        "y2": {"field": "bottom"}
      }
    },
    {
      "data": {"name": "clock"},
      "mark": {"type": "text", "align": "center", "baseline": "middle", "fontSize": 8.5, "color": "#ffffff"},
      "encoding": {
        "x": {"field": "tx", "type": "temporal"},
        "y": {"field": "mid", "type": "quantitative"},
        "text": {"field": "text"}
      }
    }
  ]
}
